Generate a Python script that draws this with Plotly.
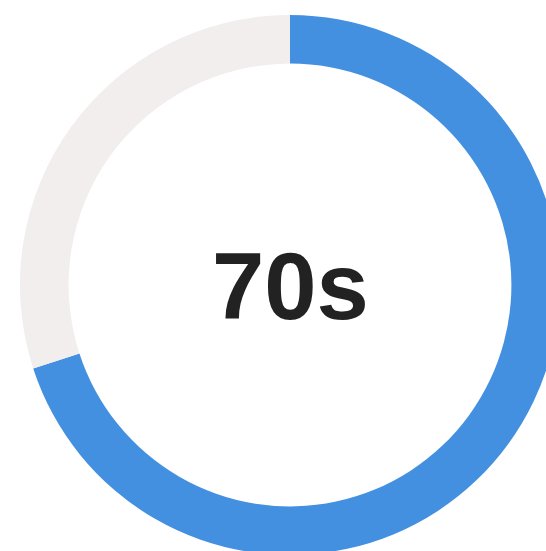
import plotly.graph_objects as go

labels = ["Elapsed", "Remaining"]
values = [70, 30]
colors = ["#4490E0", "#F1EEED"]
center_text = "70s"

fig = go.Figure(
    go.Pie(
        labels=labels,
        values=values,
        hole=0.82,
        sort=False,
        direction="clockwise",
        rotation=0,
        marker=dict(colors=colors, line=dict(width=0)),
        textinfo="none",
        hoverinfo="skip",
        showlegend=False,
    )
)

fig.add_annotation(
    text="<b>" + center_text + "</b>",
    x=0.5, y=0.497, xref="paper", yref="paper",
    showarrow=False,
    font=dict(family="Liberation Sans, Arial, sans-serif", size=94, color="#222222"),
)

fig.update_layout(
    width=580,
    height=570,
    margin=dict(l=20, r=20, t=15, b=15),
    paper_bgcolor="white",
    plot_bgcolor="white",
)

fig.write_html(
    "out.html",
    config={"displayModeBar": False},
    post_script="document.body.style.margin='0';document.body.style.overflow='hidden';",
)
